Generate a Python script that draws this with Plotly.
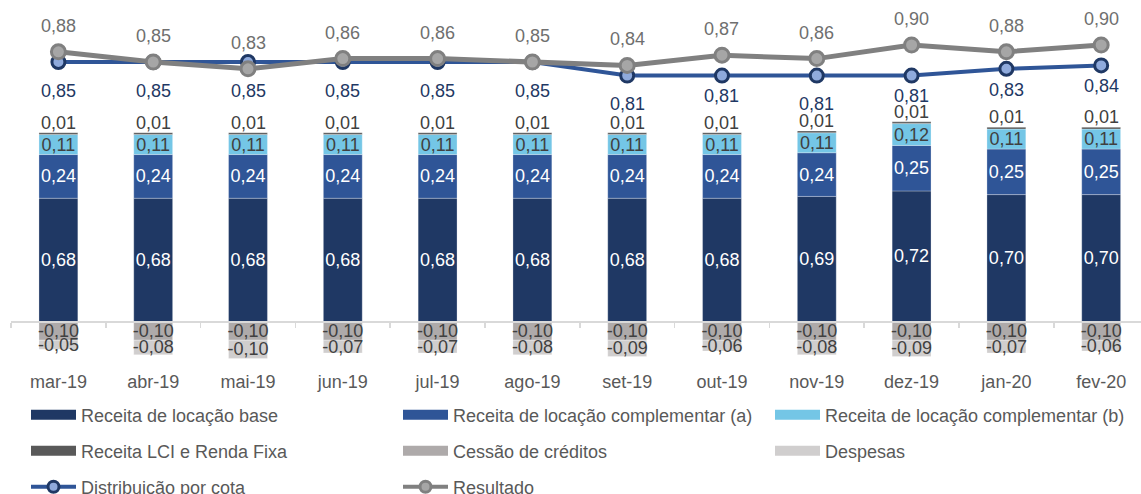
import plotly.graph_objects as go

months = ['mar-19', 'abr-19', 'mai-19', 'jun-19', 'jul-19', 'ago-19',
          'set-19', 'out-19', 'nov-19', 'dez-19', 'jan-20', 'fev-20']
base = [0.68, 0.68, 0.68, 0.68, 0.68, 0.68, 0.68, 0.68, 0.69, 0.72, 0.70, 0.70]
comp_a = [0.24, 0.24, 0.24, 0.24, 0.24, 0.24, 0.24, 0.24, 0.24, 0.25, 0.25, 0.25]
comp_b = [0.11, 0.11, 0.11, 0.11, 0.11, 0.11, 0.11, 0.11, 0.11, 0.12, 0.11, 0.11]
lci = [0.01] * 12
cessao = [-0.10] * 12
despesas = [-0.05, -0.08, -0.10, -0.07, -0.07, -0.08, -0.09, -0.06, -0.08, -0.09, -0.07, -0.06]
distrib = [0.85, 0.85, 0.85, 0.85, 0.85, 0.85, 0.81, 0.81, 0.81, 0.81, 0.83, 0.84]
resultado = [0.88, 0.85, 0.83, 0.86, 0.86, 0.85, 0.84, 0.87, 0.86, 0.90, 0.88, 0.90]

names = ['Receita de locação base', 'Receita de locação complementar (a)',
         'Receita de locação complementar (b)', 'Receita LCI e Renda Fixa',
         'Cessão de créditos', 'Despesas', 'Distribuição por cota', 'Resultado']

# label placement (style only): pixel offsets of the Distribuição labels below markers
dist_label_shift = [-29, -29, -29, -29, -29, -29, -28, -20, -28, -20, -21, -21]

C_BASE = '#1f3864'
C_A = '#2f5597'
C_B = '#74c6e6'
C_LCI = '#595959'
C_CES = '#aeaaaa'
C_DES = '#d0cece'
C_LINE_D = '#2f5597'
C_LINE_R = '#808080'

FONT = 'Liberation Sans, Arial, sans-serif'
FS = 18


def fmt(v):
    return f"{v:.2f}".replace('.', ',')


fig = go.Figure()

bar_specs = [
    (base, C_BASE, 'white', True),
    (comp_a, C_A, 'white', True),
    (comp_b, C_B, '#404040', True),
    (lci, C_LCI, '#404040', False),
    (cessao, C_CES, '#404040', True),
    (despesas, C_DES, '#404040', True),
]
for vals, col, tcol, show_text in bar_specs:
    fig.add_trace(go.Bar(
        x=months, y=vals, width=0.41,
        marker=dict(color=col, line=dict(color='rgba(255,255,255,0.35)', width=0.8)),
        text=[fmt(v) for v in vals] if show_text else None,
        texttemplate='%{text}' if show_text else None,
        textposition='inside' if show_text else 'none',
        insidetextanchor='middle', textangle=0, constraintext='none',
        insidetextfont=dict(family=FONT, size=FS, color=tcol),
        showlegend=False, hoverinfo='skip'))

fig.add_trace(go.Scatter(
    x=months, y=distrib, yaxis='y2', mode='lines+markers',
    line=dict(color=C_LINE_D, width=4),
    marker=dict(size=13, color='#8faadc', line=dict(color=C_BASE, width=3)),
    showlegend=False, hoverinfo='skip'))
fig.add_trace(go.Scatter(
    x=months, y=resultado, yaxis='y2', mode='lines+markers',
    line=dict(color=C_LINE_R, width=5),
    marker=dict(size=14, color='#a6a6a6', line=dict(color=C_LINE_R, width=3)),
    showlegend=False, hoverinfo='skip'))

# legend proxies
legend_items = [
    (names[0], C_BASE, 'legend'), (names[1], C_A, 'legend'), (names[2], C_B, 'legend'),
    (names[3], C_LCI, 'legend2'), (names[4], C_CES, 'legend2'), (names[5], C_DES, 'legend2'),
]
for nm, col, lg in legend_items:
    fig.add_trace(go.Scatter(x=[None], y=[None], mode='lines', name=nm,
                             line=dict(color=col, width=10), legend=lg, hoverinfo='skip'))
fig.add_trace(go.Scatter(x=[None], y=[None], mode='lines+markers', name=names[6], legend='legend3',
                         line=dict(color=C_LINE_D, width=4),
                         marker=dict(size=11, color='#8faadc', line=dict(color=C_BASE, width=3))))
fig.add_trace(go.Scatter(x=[None], y=[None], mode='lines+markers', name=names[7], legend='legend3',
                         line=dict(color=C_LINE_R, width=4),
                         marker=dict(size=11, color='#a6a6a6', line=dict(color=C_LINE_R, width=3))))

annotations = []
for i, m in enumerate(months):
    top = base[i] + comp_a[i] + comp_b[i] + lci[i]
    annotations.append(dict(x=m, y=top, xref='x', yref='y', text=fmt(lci[i]), showarrow=False,
                            yshift=10, yanchor='middle', font=dict(family=FONT, size=FS, color='#404040')))
    annotations.append(dict(x=m, y=resultado[i], xref='x', yref='y2', text=fmt(resultado[i]), showarrow=False,
                            yshift=26, yanchor='middle', font=dict(family=FONT, size=FS, color='#6f6f6f')))
    annotations.append(dict(x=m, y=distrib[i], xref='x', yref='y2', text=fmt(distrib[i]), showarrow=False,
                            yshift=dist_label_shift[i], yanchor='middle',
                            font=dict(family=FONT, size=FS, color='#1f3864')))

W, H = 1141, 494
T, B = 5, 365
ph = B - T
zero_px = 322
scale1 = 182.0
y1_top = (zero_px - T) / scale1
y1_bot = -(B - zero_px) / scale1
scale2 = 340.0
ref_v, ref_px = 0.85, 62
y2_top = ref_v + (ref_px - T) / scale2
y2_bot = ref_v - (B - ref_px) / scale2

IW = 45
leg_common = dict(orientation='h', entrywidth=372 - IW - 15, entrywidthmode='pixels',
                  xref='container', yref='container',
                  xanchor='left', yanchor='middle', x=26 / W, itemwidth=IW,
                  font=dict(family=FONT, size=FS, color='#595959'),
                  bgcolor='rgba(0,0,0,0)', itemclick=False, itemdoubleclick=False)

fig.update_layout(
    width=W, height=H, autosize=False,
    margin=dict(l=11, r=0, t=T, b=H - B, pad=0, autoexpand=False),
    paper_bgcolor='white', plot_bgcolor='white',
    barmode='relative', bargap=0.59,
    font=dict(family=FONT, size=FS, color='#595959'),
    xaxis=dict(type='category', range=[-0.5, 11.42], anchor='free',
               position=(B - zero_px) / ph,
               showline=True, linecolor='#d9d9d9', linewidth=2,
               ticks='outside', ticklen=5, tickcolor='#d9d9d9', tickwidth=1.5,
               tickson='boundaries', ticklabelstandoff=43,
               tickfont=dict(family=FONT, size=FS, color='#595959'),
               showgrid=False, zeroline=False, fixedrange=True),
    yaxis=dict(range=[y1_bot, y1_top], visible=False, showgrid=False, zeroline=False, fixedrange=True),
    yaxis2=dict(range=[y2_bot, y2_top], overlaying='y', side='right', visible=False,
                showgrid=False, zeroline=False, fixedrange=True),
    legend=dict(**leg_common, y=(H - 415) / H),
    legend2=dict(**leg_common, y=(H - 451) / H),
    legend3=dict(**leg_common, y=(H - 487) / H),
    annotations=annotations,
    showlegend=True,
)

fig.write_html('out.html', config={'displayModeBar': False, 'staticPlot': True},
               post_script="document.body.style.margin='0';document.body.style.overflow='hidden';")
